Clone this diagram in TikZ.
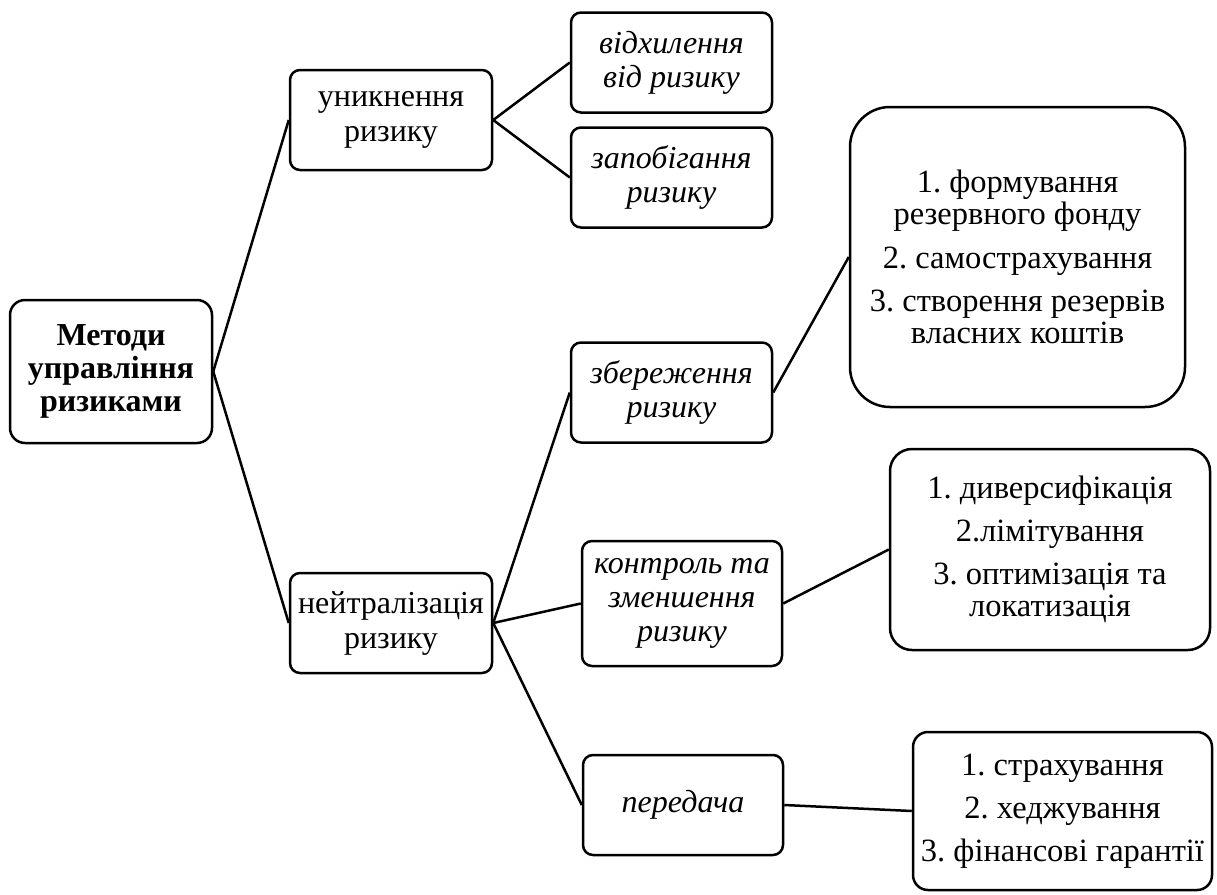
\documentclass[tikz,border=0pt]{standalone}
\usepackage{fontspec}
\setmainfont{Liberation Serif}
\usetikzlibrary{positioning}
\frenchspacing
\tikzset{%
  every box/.style={
    draw,
    line width=2.5pt,
    rounded corners=10pt,
    align=center,
    inner sep=0pt,
    font=\fontsize{32}{35}\selectfont
  },
  method box/.style={every box, minimum width=202pt, minimum height=100pt},
  way box/.style={every box, minimum width=201pt, minimum height=100pt, font=\fontsize{32}{34}\selectfont\itshape},
  list box/.style={every box, font=\fontsize{32.5}{32}\selectfont},
  link/.style={line width=2.5pt},
}

\begin{document}
\begin{tikzpicture}[x=1pt, y=-1pt]
\useasboundingbox (0,0) rectangle (1217,894);
    % root
    \node[every box, rounded corners=15pt, minimum width=202pt, minimum height=143pt, font=\fontsize{32}{33}\selectfont\bfseries] (root) at (111,371.5) {Методи\\управління\\ризиками};
    % methods
    \node[method box] (avoid) at (391,120) {уникнення\\ризику};
    \node[method box] (neutral) at (391,623) {нейтралізація\\ризику};
    % ways
    \node[way box] (deviate) at (671.5,62.5) {відхилення\\від ризику};
    \node[way box] (prevent) at (671.5,177.5) {запобігання\\ризику};
    \node[way box] (retain) at (671.5,392.5) {збереження\\ризику};
    \node[way box, minimum width=200pt, minimum height=125pt] (control) at (682,603.5) {контроль та\\зменшення\\ризику};
    \node[way box, minimum width=200pt] (transfer) at (683,805) {передача};
    % lists
    \node[list box, rounded corners=40pt, minimum width=335pt, minimum height=300pt] (listA) at (1017.5,257)
        {1. формування\\резервного фонду\\[12pt]2. самострахування\\[11pt]3. створення резервів\\власних коштів};
    \node[list box, rounded corners=22pt, minimum width=320pt, minimum height=201pt] (listB) at (1050,549.5)
        {1. диверсифікація\\[11pt]2.лімітування\\[11pt]3. оптимізація та\\локатизація};
    \node[list box, rounded corners=15pt, minimum width=299pt, minimum height=158pt] (listC) at (1062.5,811)
        {1. страхування\\[11pt]2. хеджування\\[11pt]3. фінансові гарантії};
    % connectors
    \draw[link] (root.east) -- (avoid.west);
    \draw[link] (root.east) -- (neutral.west);
    \draw[link] (avoid.east) -- (deviate.west);
    \draw[link] (avoid.east) -- (prevent.west);
    \draw[link] (neutral.east) -- (retain.west);
    \draw[link] (neutral.east) -- (control.west);
    \draw[link] (neutral.east) -- (transfer.west);
    \draw[link] (retain.east) -- (listA.west);
    \draw[link] (control.east) -- (listB.west);
    \draw[link] (transfer.east) -- (listC.west);
\end{tikzpicture}
\end{document}
